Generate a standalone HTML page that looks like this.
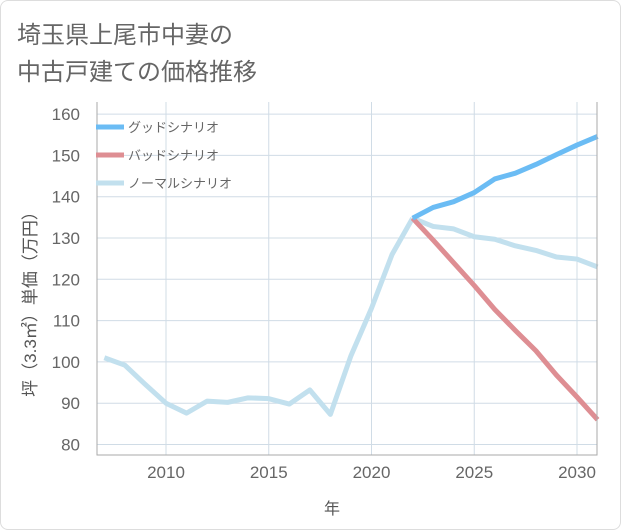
<!DOCTYPE html>
<html><head><meta charset="utf-8"><style>
body{margin:0;background:#fff;}
.card{position:absolute;left:0;top:0;width:619px;height:528px;border:1px solid #ddd;border-radius:8px;background:#fff;}
svg text{font-family:"Liberation Sans","Noto Sans CJK JP",sans-serif;}
</style></head><body>
<div class="card"></div>
<svg width="621" height="530" style="position:absolute;left:0;top:0" id="chart">
<text x="17" y="43" font-size="24" fill="#666">埼玉県上尾市中妻の</text>
<text x="17" y="80" font-size="24" fill="#666">中古戸建ての価格推移</text>
<g id="grid"></g><g id="series"></g><g id="axes"></g><g id="legend"></g>
<text x="332" y="514" font-size="16" fill="#555" text-anchor="middle">年</text>
<text transform="translate(36,300) rotate(-90)" font-size="17" fill="#555" text-anchor="middle">坪（3.3㎡）単価（万円）</text>
</svg>
<script>
const histYears=[2007,2008,2009,2010,2011,2012,2013,2014,2015,2016,2017,2018,2019,2020,2021,2022];
const histValues=[101,99.2,94.5,90,87.6,90.5,90.2,91.3,91.1,89.8,93.2,87.3,101.5,113,126,134.8];
const futYears=[2022,2023,2024,2025,2026,2027,2028,2029,2030,2031];
const goodValues=[134.8,137.4,138.8,141,144.3,145.7,147.8,150.2,152.5,154.6];
const badValues=[134.8,129.5,124,118.5,112.7,107.6,102.7,96.8,91.5,86];
const normalValues=[134.8,132.8,132.2,130.3,129.7,128.1,127,125.4,124.9,123];
const yTicks=[80,90,100,110,120,130,140,150,160];
const xTicks=[2010,2015,2020,2025,2030];
const legendLabels=["グッドシナリオ","バッドシナリオ","ノーマルシナリオ"];
const NS="http://www.w3.org/2000/svg";
const L=97,R=597,T=102,B=455;
const x=v=>166+(v-2010)*20.55;
const y=v=>238-(v-130)*4.13;
function mk(tag,attrs,parent,txt){const e=document.createElementNS(NS,tag);for(const k in attrs)e.setAttribute(k,attrs[k]);if(txt!==undefined)e.textContent=txt;document.getElementById(parent).appendChild(e);return e;}
yTicks.forEach(t=>{
 const g=mk('line',{x1:L,x2:R,y1:y(t),y2:y(t),stroke:'#d0dce6','stroke-width':1},'grid');
 
 
 const l=mk('text',{x:80,y:y(t)+6,'font-size':17,fill:'#666','text-anchor':'end'},'axes',t);
 
 
});
xTicks.forEach(t=>{
 const g=mk('line',{x1:x(t),x2:x(t),y1:T,y2:B,stroke:'#d0dce6','stroke-width':1},'grid');
 
 
 const l=mk('text',{x:x(t),y:478,'font-size':17,fill:'#666','text-anchor':'middle'},'axes',t);
 
 
});
const ax=mk('path',{d:`M${L},${T} V${B} H${R} V${T}`,fill:'none',stroke:'#aaa','stroke-width':1},'axes');


function line(xs,vs,color,name){
 const p=mk('polyline',{points:xs.map((v,i)=>x(v)+','+y(vs[i])).join(' '),fill:'none',stroke:color,'stroke-width':5,'stroke-linejoin':'round'},'series');
 
 
}
line(histYears,histValues,'#c2e0ee','history-line');
line(futYears,normalValues,'#c2e0ee','normal-scenario-line');
line(futYears,badValues,'#de8e93','bad-scenario-line');
line(futYears,goodValues,'#6bbcf4','good-scenario-line');
const cols=['#6bbcf4','#de8e93','#c2e0ee'];
legendLabels.forEach((s,i)=>{
 const yy=127+i*28;
 const r=mk('line',{x1:96,x2:124,y1:yy,y2:yy,stroke:cols[i],'stroke-width':5},'legend');
 
 
 const t=mk('text',{x:128,y:yy+5,'font-size':13,fill:'#666'},'legend',s);
 
 
});
</script>
</body></html>
